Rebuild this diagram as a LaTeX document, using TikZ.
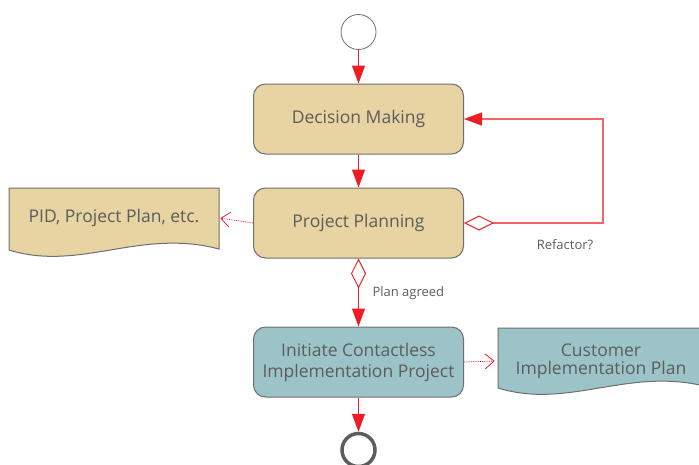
\documentclass[tikz,border=0pt]{standalone}
\usepackage{fontspec}
\setmainfont{Open Sans}
\usetikzlibrary{arrows.meta}
\definecolor{tan}{HTML}{E8D4A2}
\definecolor{teal}{HTML}{9CC4C8}
\definecolor{edge}{HTML}{6E6E6E}
\definecolor{txt}{HTML}{5C5C5C}
\definecolor{flow}{HTML}{EE1C25}
\definecolor{loopred}{HTML}{F26468}
\tikzset{
  act/.style={draw=edge, line width=1pt, rounded corners=12pt, minimum width=210pt, minimum height=70pt, inner sep=0pt, text=txt, font=\fontsize{17.5}{20}\selectfont, align=center},
  doc/.style={draw=edge, line width=1pt},
  flowarrow/.style={draw=flow, line width=1.2pt, -{Triangle[length=18pt,width=13pt]}},
  objflow/.style={draw=flow, line width=0.8pt, densely dotted, -{Straight Barb[length=9pt,width=15pt,line width=0.8pt,sep]}},
  small/.style={text=txt, font=\fontsize{13}{15}\selectfont},
}
\begin{document}
\begin{tikzpicture}[x=1pt,y=-1pt]
\useasboundingbox (0,0) rectangle (699,464);
\clip (0,0) rectangle (699,464);
% start
\node[circle, draw=edge, line width=0.8pt, minimum size=35pt, inner sep=0pt] (start) at (358.5,32) {};
% activities
\node[act, fill=tan] (dm) at (358.5,119) {Decision Making};
\node[act, fill=tan] (pp) at (358.5,223) {Project Planning};
\node[act, fill=teal, font=\fontsize{17.5}{21}\selectfont] (ic) at (358.5,362) {Initiate Contactless\\Implementation Project};
% documents
\fill[tan] (9,188) -- (219,188) -- (219,249) .. controls (140,228) and (80,272) .. (9,250) -- cycle;
\draw[doc] (9,188) -- (219,188) -- (219,249) .. controls (140,228) and (80,272) .. (9,250) -- cycle;
\node[text=txt, font=\fontsize{17.5}{20}\selectfont, minimum width=210pt, minimum height=62pt, inner sep=0pt] (pid) at (114,218) {PID, Project Plan, etc.};
\fill[teal] (498,328) -- (708,328) -- (708,387) .. controls (629,366) and (569,410) .. (498,388) -- cycle;
\draw[doc] (498,328) -- (708,328) -- (708,387) .. controls (629,366) and (569,410) .. (498,388) -- cycle;
\node[text=txt, font=\fontsize{17.5}{18}\selectfont, align=center, minimum width=210pt, minimum height=70pt, inner sep=0pt] (cip) at (601,361) {Customer\\Implementation Plan};
% end
\node[circle, draw=edge!85!black, line width=3.5pt, minimum size=33pt, inner sep=0pt] (end) at (358.5,450) {};
% flows
\draw[flowarrow] (start) -- (dm);
\draw[flowarrow] (dm) -- (pp);
\draw[flowarrow] (ic) -- (end);
\draw[flowarrow, {Diamond[open,length=30pt,width=15pt,line width=1pt]}-{Triangle[length=18pt,width=13pt]}] (pp.south) -- (ic.north);
\coordinate (c1) at (603,223);
\coordinate (c2) at (603,119);
\draw[draw=loopred, line width=1.1pt, {Diamond[open,length=30pt,width=15pt,line width=1pt,color=flow]}-{Triangle[length=18pt,width=13pt,color=flow]}] (pp.east) -- (c1) -- (c2) -- (dm.east);
\draw[objflow] (pp.west) -- (pid.east);
\draw[objflow] (ic.east) -- (cip.west);
% labels
\node[small, anchor=west] (l1) at (369,293) {Plan agreed};
\node[small] (l2) at (565,245) {Refactor?};
\end{tikzpicture}
\end{document}
